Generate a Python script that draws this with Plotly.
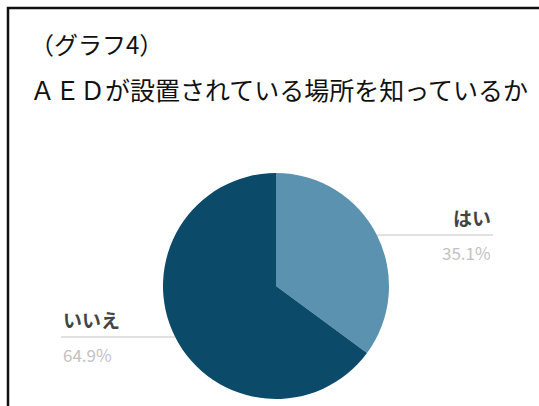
import math
import plotly.graph_objects as go

# Survey result: does the respondent know where the AED is installed?
labels = ["はい", "いいえ"]
values = [35.1, 64.9]
colors = ["#5a92b0", "#0b4a69"]

title_1 = "（グラフ4）"
title_2 = "ＡＥＤが設置されている場所を知っているか"

W, H = 539, 406
# pie placement in pixels (center and radius)
cx, cy, r = 276, 286, 113


def px(x):
    return x / W


def py(y):
    return 1 - y / H


fig = go.Figure()
fig.add_trace(go.Pie(
    labels=labels,
    values=values,
    marker=dict(colors=colors, line=dict(width=0)),
    sort=False,
    direction="clockwise",
    rotation=0,
    textinfo="none",
    hoverinfo="label+percent",
    showlegend=False,
    domain=dict(x=[px(cx - r), px(cx + r)], y=[py(cy + r), py(cy - r)]),
))

shapes = [
    # outer frame
    dict(type="rect", xref="paper", yref="paper",
         x0=px(8), x1=px(W + 10), y0=py(H + 10), y1=py(8),
         line=dict(color="#111111", width=2.5), layer="above"),
]
annotations = [
    dict(text=title_1, x=px(28), y=py(43), xref="paper", yref="paper",
         xanchor="left", yanchor="middle", showarrow=False,
         font=dict(family="Noto Sans CJK JP", size=24, color="#111111")),
    dict(text=title_2, x=px(28), y=py(89), xref="paper", yref="paper",
         xanchor="left", yanchor="middle", showarrow=False,
         font=dict(family="Noto Sans CJK JP", size=25, color="#111111")),
]

# leader lines start at each slice's mid-angle on the rim
total = sum(values)
cum = 0.0
for lab, val in zip(labels, values):
    mid = (cum + val / 2) / total * 2 * math.pi
    cum += val
    sx = cx + r * math.sin(mid)
    sy = cy - r * math.cos(mid)
    pct = f"{val / total * 100:.1f}%"
    if math.sin(mid) >= 0:
        ex = 493
        anchor = "right"
    else:
        ex = 61
        anchor = "left"
    shapes.append(dict(type="line", xref="paper", yref="paper",
                       x0=px(sx), x1=px(ex), y0=py(sy), y1=py(sy),
                       line=dict(color="#c4c4c4", width=1)))
    annotations.append(dict(text=f"<b>{lab}</b>", x=px(ex), y=py(sy - 2),
                            xref="paper", yref="paper", xanchor=anchor,
                            yanchor="bottom", showarrow=False,
                            font=dict(family="Noto Sans CJK JP", size=19, color="#444444")))
    annotations.append(dict(text=pct, x=px(ex), y=py(sy + 3),
                            xref="paper", yref="paper", xanchor=anchor,
                            yanchor="top", showarrow=False,
                            font=dict(family="Noto Sans CJK JP", size=17, color="#c2c2c2")))

fig.update_layout(
    width=W, height=H,
    margin=dict(l=0, r=0, t=0, b=0),
    paper_bgcolor="white",
    plot_bgcolor="white",
    shapes=shapes,
    annotations=annotations,
)

fig.write_html("out.html")
